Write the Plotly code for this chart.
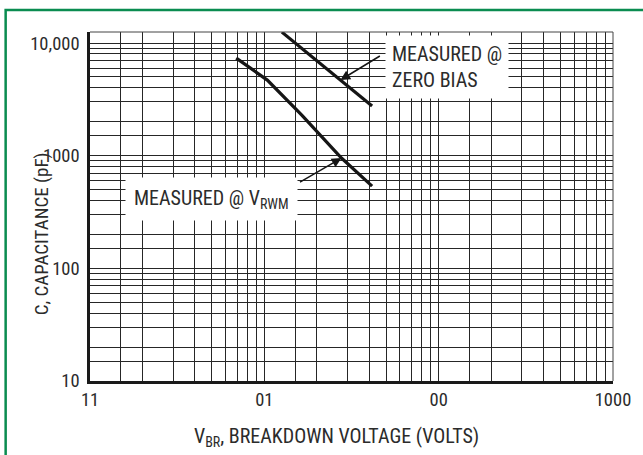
import math
import plotly.graph_objects as go

# ---- data ----
x_tick_vals = [1, 10, 100, 1000]
x_tick_text = ["11", "01", "00", "1000"]
y_tick_vals = [10, 100, 1000, 10000]
y_tick_text = ["10", "100", "1000", "10,000"]
grid_steps = [1, 1.5, 2, 3, 4, 5, 6, 7, 8, 9]

zero_bias_v = [12.6, 27.3, 41.5]
zero_bias_c = [12500, 4690, 2755]

vrwm_v = [6.9, 10.4, 16.4, 27.7, 41.5]
vrwm_c = [7350, 4690, 2290, 953, 537]

x_title = "V<sub>BR</sub>, BREAKDOWN VOLTAGE (VOLTS)"
y_title = "C, CAPACITANCE (pF)"
label_zero = "MEASURED @<br>ZERO BIAS"
label_vrwm = "MEASURED @ V<sub>RWM</sub>"

FONT = "Liberation Sans Narrow, Arial Narrow, Roboto Condensed, Liberation Sans, sans-serif"
TXT = "#2b2b2b"
GRID = "#262626"
GREEN = "#0a8c50"


def grid_values(lo, hi):
    vals = []
    d = lo
    while d < hi:
        vals += [d * s for s in grid_steps]
        d *= 10
    vals.append(hi)
    return vals


def tick_arrays(lo, hi, labeled, labels):
    vals = grid_values(lo, hi)
    text = []
    for v in vals:
        t = ""
        for lv, lt in zip(labeled, labels):
            if abs(v - lv) < 1e-9 * lv:
                t = lt
        text.append(t)
    return vals, text


xv, xt = tick_arrays(1, 1000, x_tick_vals, x_tick_text)
yv, yt = tick_arrays(10, 10000, y_tick_vals, y_tick_text)

fig = go.Figure()
fig.add_trace(go.Scatter(x=zero_bias_v, y=zero_bias_c, mode="lines",
                         line=dict(color="#151515", width=3.2), showlegend=False,
                         hoverinfo="skip"))
fig.add_trace(go.Scatter(x=vrwm_v, y=vrwm_c, mode="lines",
                         line=dict(color="#151515", width=3.2), showlegend=False,
                         hoverinfo="skip"))

fig.update_layout(
    width=643, height=455,
    margin=dict(l=90, r=26, t=32, b=74, pad=0),
    paper_bgcolor="white", plot_bgcolor="white",
    font=dict(family=FONT, size=18, color=TXT),
    xaxis=dict(type="log", range=[0, 3], tickmode="array", tickvals=xv, ticktext=xt,
               showgrid=True, gridcolor=GRID, gridwidth=1, zeroline=False,
               showline=True, linecolor="#1a1a1a", linewidth=2.5, ticks="",
               ticklabelstandoff=0, tickfont=dict(size=18.5, family=FONT, color=TXT)),
    yaxis=dict(type="log", range=[1, 4.098], tickmode="array", tickvals=yv, ticktext=yt,
               showgrid=True, gridcolor=GRID, gridwidth=1, zeroline=False,
               showline=True, linecolor="#1a1a1a", linewidth=2.5, ticks="",
               ticklabelstandoff=4, tickfont=dict(size=18.5, family=FONT, color=TXT)),
    shapes=[
        dict(type="line", xref="paper", yref="paper", x0=0, x1=1, y0=1, y1=1,
             line=dict(color="#444", width=1)),
        dict(type="line", xref="paper", yref="paper", x0=1, x1=1, y0=0, y1=1,
             line=dict(color="#444", width=1)),
        dict(type="rect", xref="paper", yref="paper",
             x0=(5 - 90) / 527, x1=1.3, y0=(381 - 10) / 349, y1=-0.4,
             line=dict(color=GREEN, width=2.5), fillcolor="rgba(0,0,0,0)"),
    ],
    annotations=[
        dict(text=label_zero, xref="paper", yref="paper",
             x=(450 - 90) / 527, y=(381 - 66.5) / 349, xanchor="center", yanchor="middle",
             align="left", showarrow=False, bgcolor="white", borderpad=6,
             font=dict(size=20, family=FONT, color=TXT)),
        dict(text=label_vrwm, xref="paper", yref="paper",
             x=(212.5 - 90) / 527, y=(381 - 198.5) / 349, xanchor="center", yanchor="middle",
             align="left", showarrow=False, bgcolor="white", borderpad=8,
             font=dict(size=20, family=FONT, color=TXT)),
        dict(text="", x=math.log10(zero_bias_v[1]), y=math.log10(zero_bias_c[1]),
             xref="x", yref="y", showarrow=True, ax=41, ay=-25,
             arrowhead=2, arrowsize=1.3, arrowwidth=1.5, arrowcolor="#151515"),
        dict(text="", x=math.log10(vrwm_v[3]), y=math.log10(vrwm_c[3]),
             xref="x", yref="y", showarrow=True, ax=-43, ay=25,
             arrowhead=2, arrowsize=1.3, arrowwidth=1.5, arrowcolor="#151515"),
        dict(text=x_title, xref="paper", yref="paper",
             x=(338 - 90) / 527, y=(381 - 437) / 349, xanchor="center", yanchor="middle",
             showarrow=False, font=dict(size=20, family=FONT, color=TXT)),
        dict(text=y_title, xref="paper", yref="paper", textangle=-90,
             x=(42 - 90) / 527, y=(381 - 234) / 349, xanchor="center", yanchor="middle",
             showarrow=False, font=dict(size=19, family=FONT, color=TXT)),
    ],
)

fig.write_html("out.html", config={"displayModeBar": False},
               post_script="document.body.style.margin='0';document.body.style.overflow='hidden';")
